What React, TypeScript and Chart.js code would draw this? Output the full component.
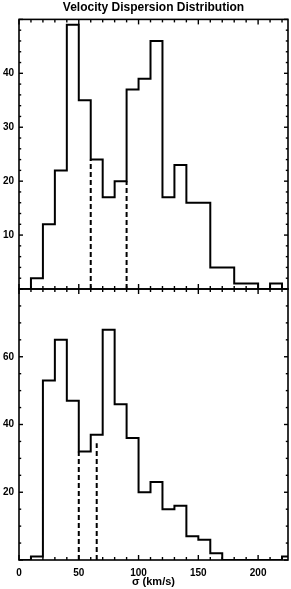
import React, { useEffect, useRef } from "react";
import { Chart, registerables } from "chart.js";

Chart.register(...registerables);

// ---- data ----
const binEdges = [0, 10, 20, 30, 40, 50, 60, 70, 80, 90, 100, 110, 120, 130, 140, 150, 160, 170, 180, 190, 200, 210, 220, 230];
const topCounts = [0, 2, 12, 22, 49, 35, 24, 17, 20, 37, 39, 46, 17, 23, 16, 16, 4, 4, 1, 1, 0, 1, 0];
const bottomCounts = [0, 1, 53, 65, 47, 32, 37, 68, 46, 36, 20, 23, 15, 16, 7, 6, 2, 0, 0, 0, 0, 0, 1];
const topDividerX = [60, 90];
const topDividerY = [24, 20];
const bottomDividerX = [50, 65];
const bottomDividerY = [32, 34.5];
const xTickValues = [0, 50, 100, 150, 200];
const topYTickValues = [10, 20, 30, 40];
const bottomYTickValues = [20, 40, 60];
const titleText = "Velocity Dispersion Distribution";
const xAxisTitle = "σ (km/s)";

const FONT = "'Liberation Sans', Arial, sans-serif";

function histPoints(counts: number[]) {
  const pts = counts.map((c, i) => ({ x: binEdges[i], y: c }));
  pts.push({ x: binEdges[counts.length], y: 0 });
  return pts;
}

function dividerDatasets(xs: number[], ys: number[]) {
  return xs.map((x, i) => ({
    data: [
      { x, y: 0 },
      { x, y: ys[i] },
    ],
    borderColor: "#000",
    borderWidth: 2,
    borderDash: [5, 3],
    pointRadius: 0,
    fill: false,
  }));
}

const framePlugin = {
  id: "frame",
  afterDatasetsDraw(chart: any, _args: any, opts: any) {
    const { ctx, chartArea } = chart;
    const { left, right, top, bottom } = chartArea;
    const x = chart.scales.x;
    const y = chart.scales.y;
    ctx.save();
    ctx.strokeStyle = "#000";
    ctx.lineWidth = 1.6;
    ctx.strokeRect(left, top, right - left, bottom - top);
    ctx.lineWidth = 1.4;
    const line = (x1: number, y1: number, x2: number, y2: number) => {
      ctx.beginPath();
      ctx.moveTo(x1, y1);
      ctx.lineTo(x2, y2);
      ctx.stroke();
    };
    for (let v = x.min; v <= x.max + 1e-6; v += opts.xMinor) {
      const px = x.getPixelForValue(v);
      const len = Math.abs(v % opts.xMajor) < 1e-6 ? 5 : 3;
      line(px, bottom, px, bottom - len);
      line(px, top, px, top + len);
    }
    for (let v = y.min; v <= y.max + 1e-6; v += opts.yMinor) {
      const py = y.getPixelForValue(v);
      const len = Math.abs(v % opts.yMajor) < 1e-6 ? 4 : 2.2;
      line(left, py, left + len, py);
      line(right, py, right - len, py);
    }
    ctx.restore();
  },
};

function makeOptions(cfg: {
  yMax: number;
  yTicks: number[];
  showX: boolean;
  title: boolean;
  padding: any;
  frame: any;
}) {
  const font = { family: FONT, size: 10, weight: "bold" as const };
  return {
    animation: false as const,
    responsive: false,
    maintainAspectRatio: false,
    layout: { padding: cfg.padding },
    plugins: {
      legend: { display: false },
      tooltip: { enabled: false },
      title: {
        display: cfg.title,
        text: titleText,
        fullSize: false,
        color: "#000",
        font: { family: FONT, size: 12, weight: "bold" as const },
        padding: { top: 0, bottom: 5 },
      },
      frame: cfg.frame,
    },
    elements: { line: { tension: 0 } },
    scales: {
      x: {
        type: "linear" as const,
        min: 0,
        max: 225,
        display: cfg.showX,
        grid: { display: false, drawTicks: false },
        border: { display: false },
        afterBuildTicks: (s: any) => {
          s.ticks = xTickValues.map((v) => ({ value: v }));
        },
        afterFit: (s: any) => {
          if (cfg.showX) s.height = 29;
          s.paddingLeft = 0;
          s.paddingRight = 0;
        },
        ticks: {
          color: "#000",
          font,
          padding: 7,
          maxRotation: 0,
          autoSkip: false,
        },
        title: {
          display: cfg.showX,
          text: xAxisTitle,
          color: "#000",
          font: { family: FONT, size: 11, weight: "bold" as const },
          padding: { top: 0, bottom: 0 },
        },
      },
      y: {
        type: "linear" as const,
        min: 0,
        max: cfg.yMax,
        grid: { display: false, drawTicks: false },
        border: { display: false },
        afterBuildTicks: (s: any) => {
          s.ticks = cfg.yTicks.map((v) => ({ value: v }));
        },
        afterFit: (s: any) => {
          s.width = 19;
          s.paddingTop = 0;
          s.paddingBottom = 0;
        },
        ticks: { color: "#000", font, padding: 5 },
      },
    },
  };
}

export default function App() {
  const topRef = useRef<HTMLCanvasElement>(null);
  const botRef = useRef<HTMLCanvasElement>(null);

  useEffect(() => {
    const histStyle = {
      borderColor: "#000",
      borderWidth: 2,
      pointRadius: 0,
      fill: false,
      stepped: true as const,
      borderJoinStyle: "miter" as const,
    };
    const top = new Chart(topRef.current!, {
      type: "line",
      data: {
        datasets: [
          { data: histPoints(topCounts), ...histStyle } as any,
          ...(dividerDatasets(topDividerX, topDividerY) as any[]),
        ],
      },
      options: makeOptions({
        yMax: 50,
        yTicks: topYTickValues,
        showX: false,
        title: true,
        padding: { left: 0, right: 3, top: 0, bottom: 6 },
        frame: { xMinor: 10, xMajor: 50, yMinor: 2, yMajor: 10 },
      }) as any,
      plugins: [framePlugin],
    });
    const bot = new Chart(botRef.current!, {
      type: "line",
      data: {
        datasets: [
          { data: histPoints(bottomCounts), ...histStyle } as any,
          ...(dividerDatasets(bottomDividerX, bottomDividerY) as any[]),
        ],
      },
      options: makeOptions({
        yMax: 80,
        yTicks: bottomYTickValues,
        showX: true,
        title: false,
        padding: { left: 0, right: 3, top: 5, bottom: 0 },
        frame: { xMinor: 10, xMajor: 50, yMinor: 5, yMajor: 20 },
      }) as any,
      plugins: [framePlugin],
    });
    return () => {
      top.destroy();
      bot.destroy();
    };
  }, []);

  return (
    <div
      style={{
        position: "absolute",
        left: 0,
        top: 0,
        width: 291,
        height: 589,
        background: "#fff",
        overflow: "hidden",
      }}
    >
      <canvas
        ref={topRef}
        width={291}
        height={295}
        style={{ position: "absolute", left: 0, top: 0, width: 291, height: 295 }}
      />
      <canvas
        ref={botRef}
        width={291}
        height={305}
        style={{ position: "absolute", left: 0, top: 284, width: 291, height: 305 }}
      />
    </div>
  );
}
